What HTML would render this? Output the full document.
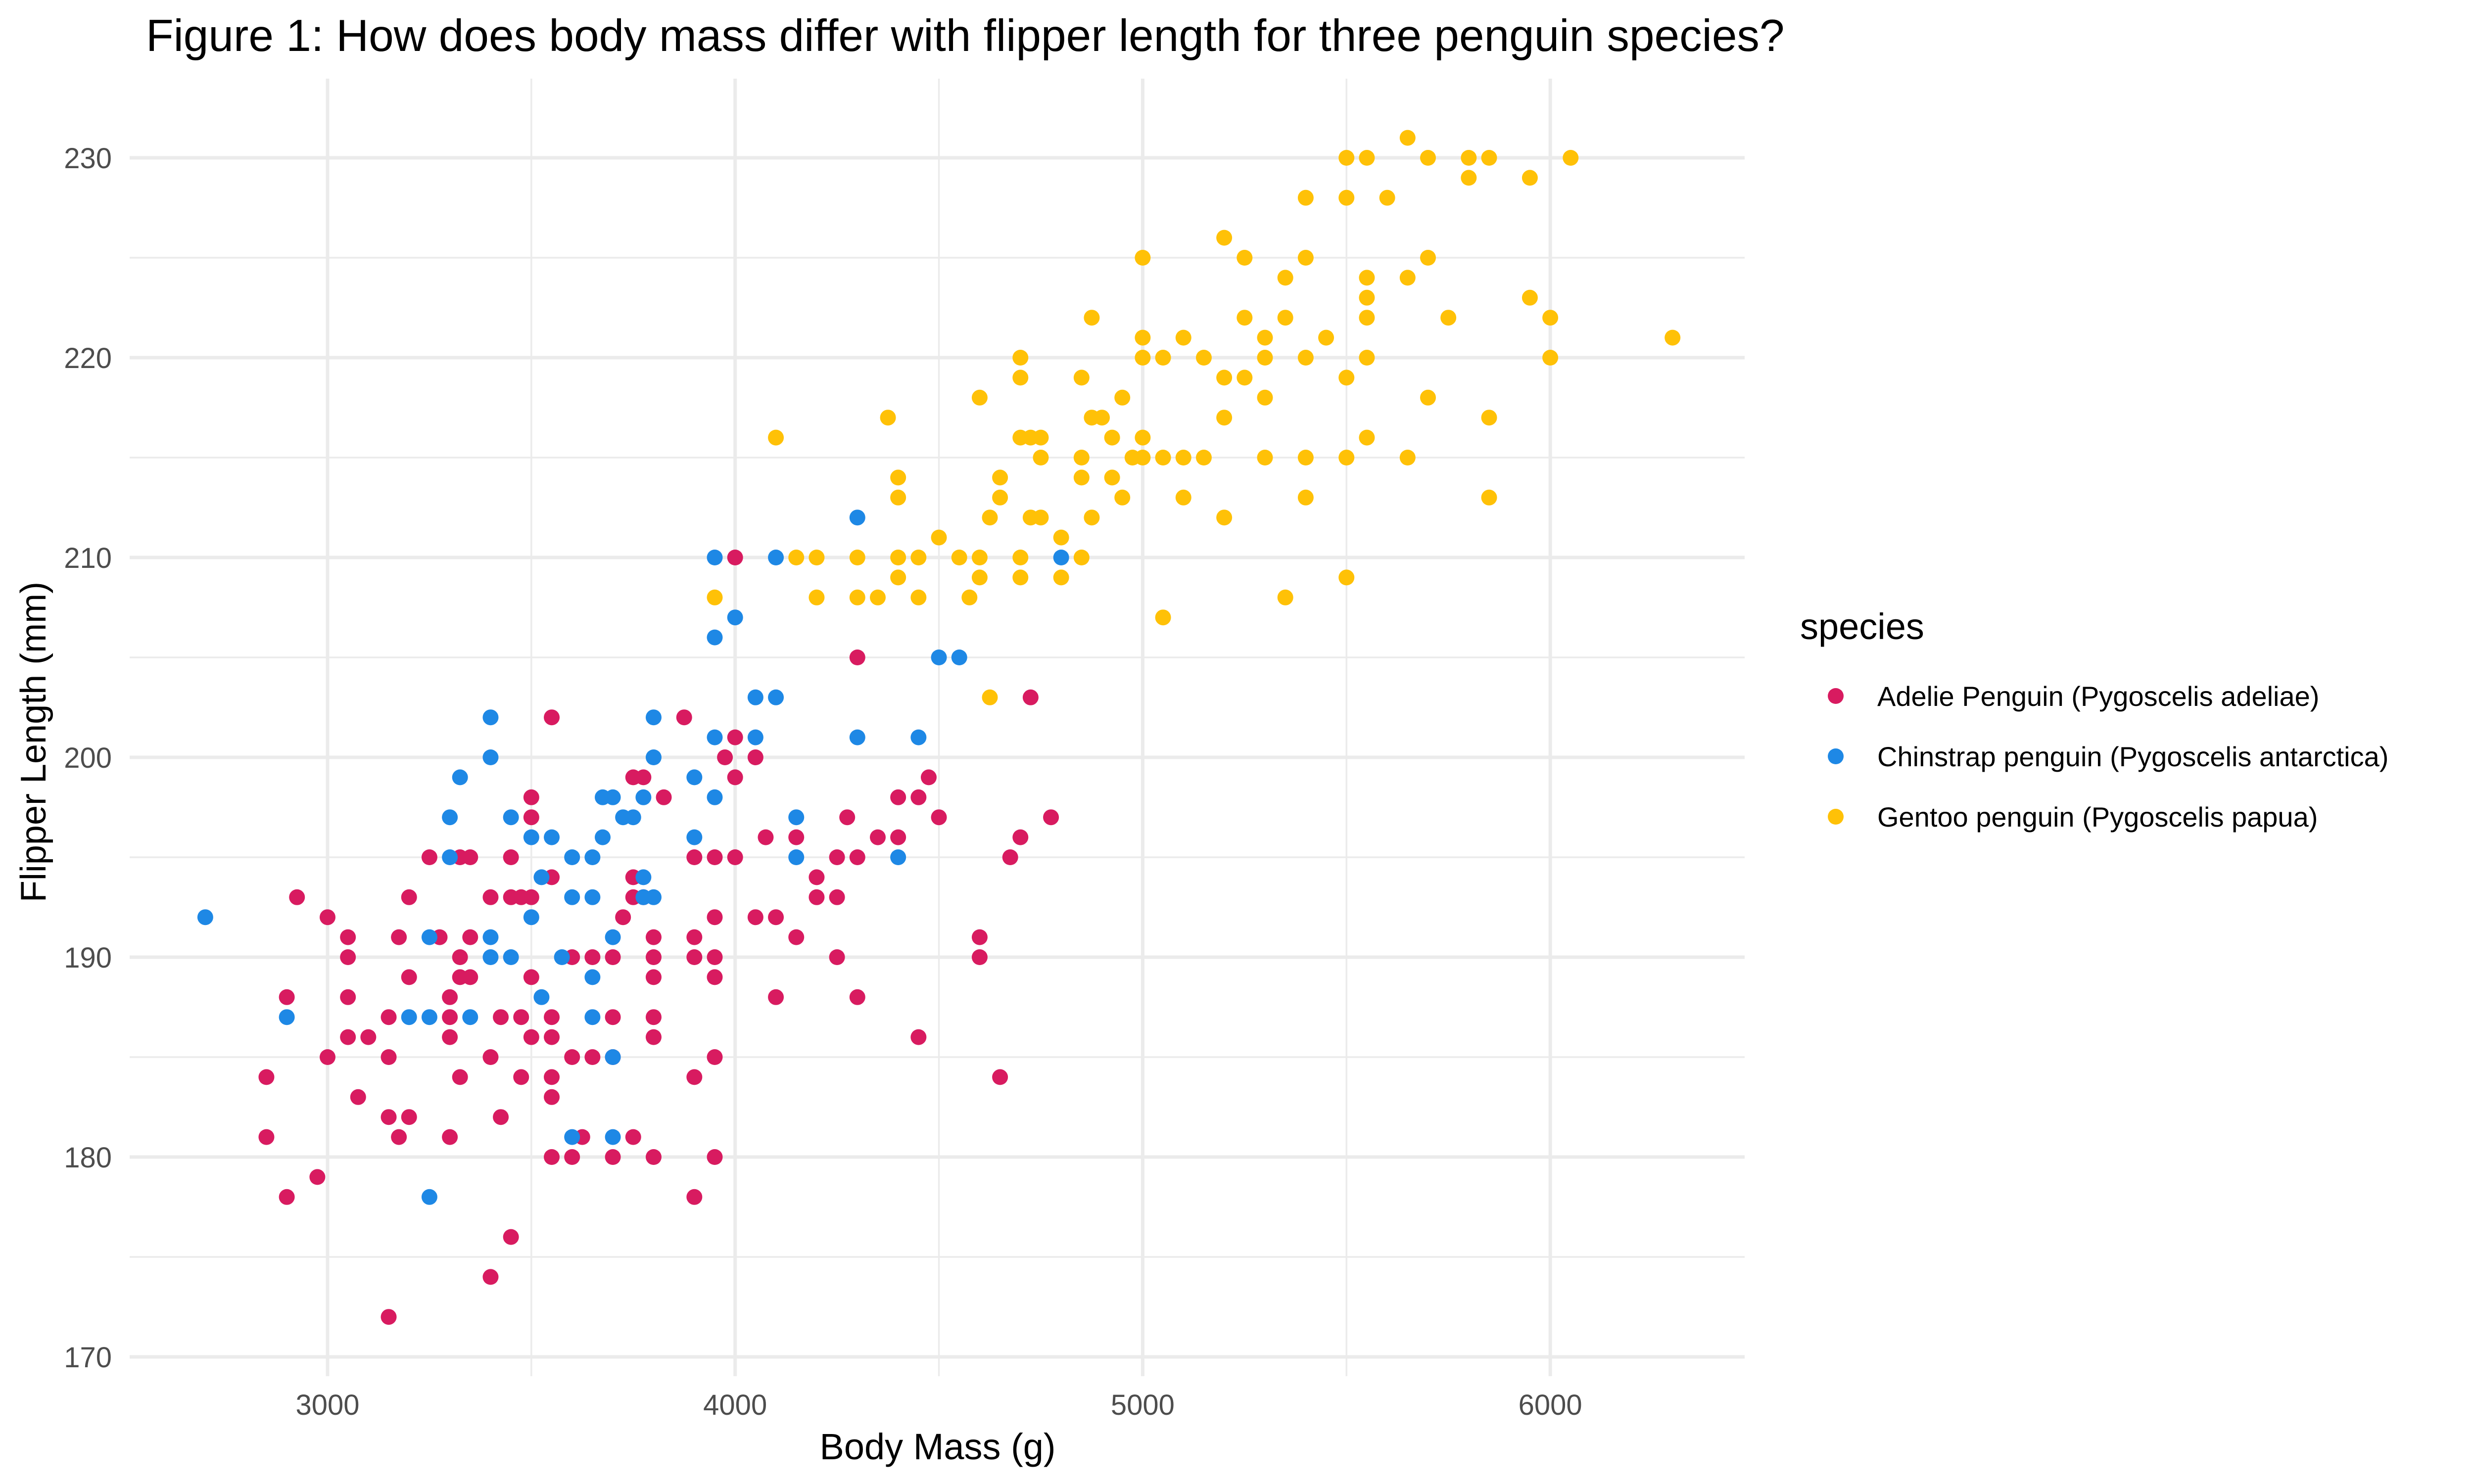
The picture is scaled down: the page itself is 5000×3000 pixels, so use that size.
<!DOCTYPE html>
<html><head><meta charset="utf-8"><style>
html,body{margin:0;padding:0;background:#fff;}
svg{display:block;font-family:"Liberation Sans",Arial,sans-serif;}
</style></head><body>
<svg id="chart" width="5000" height="3000" viewBox="0 0 5000 3000" xmlns="http://www.w3.org/2000/svg">
<rect x="0" y="0" width="5000" height="3000" fill="#fff"/>
<g id="grid"></g>
<g id="ticks"></g>
<g id="points"></g>
<text x="295" y="103" font-size="91" fill="#000">Figure 1: How does body mass differ with flipper length for three penguin species?</text>
<text x="1895" y="2950" font-size="74" fill="#000" text-anchor="middle">Body Mass (g)</text>
<text transform="translate(92,1500) rotate(-90)" font-size="72" fill="#000" text-anchor="middle">Flipper Length (mm)</text>
<g id="legend">
<text x="3638" y="1292" font-size="74" fill="#000">species</text>
</g>
</svg>
<script>
const xTicks=[3000,4000,5000,6000];
const xMinor=[3500,4500,5500];
const yTicks=[170,180,190,200,210,220,230];
const yMinor=[175,185,195,205,215,225];
const speciesNames=["Adelie Penguin (Pygoscelis adeliae)","Chinstrap penguin (Pygoscelis antarctica)","Gentoo penguin (Pygoscelis papua)"];
const speciesColors=["#D81B60","#1E88E5","#FFC107"];
const adelie=[[2850,184],[2850,181],[2900,188],[2900,178],[2925,193],[2975,179],[3000,192],[3000,185],[3050,191],[3050,190],[3050,188],[3050,186],[3075,183],[3100,186],[3150,187],[3150,185],[3150,182],[3150,172],[3175,191],[3175,181],[3200,193],[3200,189],[3200,182],[3250,195],[3275,191],[3300,188],[3300,187],[3300,186],[3300,181],[3325,190],[3325,189],[3325,184],[3325,195],[3350,195],[3350,191],[3350,189],[3400,193],[3400,185],[3400,174],[3425,187],[3425,182],[3450,195],[3450,193],[3450,176],[3475,193],[3475,187],[3475,184],[3500,198],[3500,197],[3500,193],[3500,189],[3500,186],[3550,202],[3550,194],[3550,187],[3550,186],[3550,184],[3550,183],[3550,180],[3600,190],[3600,185],[3600,180],[3625,181],[3650,190],[3650,185],[3700,190],[3700,187],[3700,185],[3700,180],[3725,192],[3750,199],[3750,194],[3750,193],[3750,181],[3775,199],[3775,193],[3800,191],[3800,190],[3800,189],[3800,187],[3800,186],[3800,180],[3825,198],[3875,202],[3900,191],[3900,190],[3900,184],[3900,178],[3900,195],[3950,195],[3950,192],[3950,190],[3950,189],[3950,185],[3950,180],[3975,200],[4000,210],[4000,201],[4000,199],[4000,195],[4050,200],[4050,192],[4075,196],[4100,192],[4100,188],[4150,196],[4150,191],[4200,194],[4200,193],[4250,195],[4250,193],[4250,190],[4275,197],[4300,205],[4300,195],[4300,188],[4350,196],[4400,198],[4400,196],[4450,198],[4450,186],[4475,199],[4500,197],[4600,191],[4600,190],[4650,184],[4675,195],[4700,196],[4725,203],[4775,197]];
const chinstrap=[[2700,192],[2900,187],[3250,191],[3250,187],[3250,178],[3200,187],[3300,197],[3300,195],[3325,199],[3350,187],[3400,202],[3400,200],[3400,191],[3400,190],[3450,197],[3450,190],[3500,196],[3500,192],[3525,194],[3525,188],[3550,196],[3575,190],[3600,195],[3600,193],[3600,181],[3650,195],[3650,193],[3650,189],[3650,187],[3675,198],[3675,196],[3700,198],[3700,191],[3700,185],[3700,181],[3725,197],[3750,197],[3775,198],[3775,194],[3775,193],[3800,202],[3800,200],[3800,193],[3900,199],[3900,196],[3950,210],[3950,206],[3950,201],[3950,198],[4000,207],[4050,203],[4050,201],[4100,210],[4100,203],[4150,197],[4150,195],[4300,212],[4300,201],[4400,195],[4450,201],[4500,205],[4550,205],[4800,210]];
const gentoo=[[4100,216],[4150,210],[4200,210],[4200,208],[3950,208],[4300,210],[4300,208],[4350,208],[4375,217],[4400,214],[4400,213],[4400,210],[4400,209],[4450,210],[4450,208],[4500,211],[4550,210],[4575,208],[4600,218],[4600,210],[4600,209],[4625,203],[4625,212],[4650,214],[4650,213],[4700,220],[4700,219],[4700,216],[4700,210],[4700,209],[4725,216],[4725,212],[4750,216],[4750,215],[4750,212],[4800,211],[4800,209],[4850,219],[4850,215],[4850,214],[4850,210],[4875,222],[4875,217],[4875,212],[4900,217],[4925,216],[4925,214],[4950,218],[4950,213],[4975,215],[5000,225],[5000,221],[5000,220],[5000,216],[5000,215],[5050,220],[5050,215],[5050,207],[5100,221],[5100,215],[5100,213],[5150,220],[5150,215],[5200,226],[5200,219],[5200,217],[5200,212],[5250,225],[5250,222],[5250,219],[5300,221],[5300,220],[5300,218],[5300,215],[5350,224],[5350,222],[5350,208],[5400,228],[5400,225],[5400,220],[5400,215],[5400,213],[5450,221],[5500,230],[5500,228],[5500,219],[5500,215],[5500,209],[5550,230],[5550,224],[5550,223],[5550,222],[5550,220],[5550,216],[5600,228],[5650,231],[5650,224],[5650,215],[5700,230],[5700,225],[5700,218],[5750,222],[5800,230],[5800,229],[5850,230],[5850,217],[5850,213],[5950,229],[5950,223],[6000,222],[6000,220],[6050,230],[6300,221]];

const NS="http://www.w3.org/2000/svg";
const PL=262,PR=3526,PT=159,PB=2782;
function xs(v){return 662+(v-3000)*0.8237;}
function ys(v){return 2743-(v-170)*40.4;}
function mk(tag,attrs,parent){const e=document.createElementNS(NS,tag);for(const k in attrs)e.setAttribute(k,attrs[k]);parent.appendChild(e);return e;}
const grid=document.getElementById('grid'),ticks=document.getElementById('ticks'),pts=document.getElementById('points'),leg=document.getElementById('legend');
xMinor.forEach(v=>{const l=mk('line',{x1:xs(v),x2:xs(v),y1:PT,y2:PB,stroke:'#ebebeb','stroke-width':3.5},grid);

});
yMinor.forEach(v=>{const l=mk('line',{x1:PL,x2:PR,y1:ys(v),y2:ys(v),stroke:'#ebebeb','stroke-width':3.5},grid);

});
xTicks.forEach(v=>{const l=mk('line',{x1:xs(v),x2:xs(v),y1:PT,y2:PB,stroke:'#ebebeb','stroke-width':7},grid);


const t=mk('text',{x:xs(v),y:2860,'font-size':58,fill:'#4d4d4d','text-anchor':'middle'},ticks);t.textContent=v;

});
yTicks.forEach(v=>{const l=mk('line',{x1:PL,x2:PR,y1:ys(v),y2:ys(v),stroke:'#ebebeb','stroke-width':7},grid);


const t=mk('text',{x:226,y:ys(v)+21,'font-size':58,fill:'#4d4d4d','text-anchor':'end'},ticks);t.textContent=v;

});
[adelie,chinstrap,gentoo].forEach((arr,i)=>{arr.forEach(p=>{const c=mk('circle',{cx:xs(p[0]),cy:ys(p[1]),r:16,fill:speciesColors[i]},pts);

});});
speciesNames.forEach((n,i)=>{const y=1407+i*122;
const c=mk('circle',{cx:3710,cy:y,r:16,fill:speciesColors[i]},leg);


const t=mk('text',{x:3794,y:y+20,'font-size':56,fill:'#000'},leg);t.textContent=n;

});
</script>
</body></html>
